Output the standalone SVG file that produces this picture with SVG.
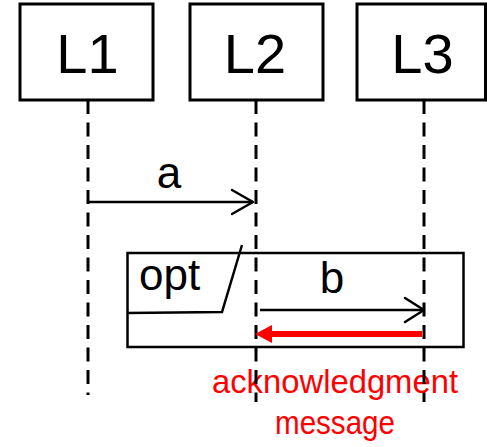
<svg xmlns="http://www.w3.org/2000/svg" width="487" height="447" viewBox="0 0 487 447">
  <style>
    .box { fill: #fff; stroke: #000; stroke-width: 3; }
    .life { stroke: #000; stroke-width: 3; stroke-dasharray: 14 8.5; fill: none; }
    .msg { stroke: #000; stroke-width: 2.5; fill: none; }
    .head { stroke: #000; stroke-width: 2.5; fill: none; stroke-linecap: round; stroke-linejoin: round; }
    .frame { stroke: #000; stroke-width: 2.5; fill: none; }
    .name { font-family: "Liberation Sans", Arial, sans-serif; font-size: 56px; fill: #000; text-anchor: middle; }
    .lbl { font-family: "Liberation Sans", Arial, sans-serif; font-size: 44px; fill: #000; }
    .note { font-family: "Liberation Sans", Arial, sans-serif; font-size: 34px; fill: #ff0000; text-anchor: middle; }
  </style>

  <!-- note text sits beneath the lifelines -->
  <g id="ack-note">
    <text class="note" x="335" y="393" textLength="246" lengthAdjust="spacingAndGlyphs">acknowledgment</text>
    <text class="note" x="335" y="434" textLength="120" lengthAdjust="spacingAndGlyphs">message</text>
  </g>

  <!-- lifelines -->
  <g id="lifelines">
    <line class="life" x1="88" y1="100" x2="88" y2="395"/>
    <line class="life" x1="256" y1="100" x2="256" y2="402"/>
    <line class="life" x1="424" y1="100" x2="424" y2="402"/>
  </g>

  <g id="L1">
    <rect class="box" x="20" y="4" width="133" height="96"/>
    <text class="name" x="87.5" y="73">L1</text>
  </g>
  <g id="L2">
    <rect class="box" x="190" y="4" width="133" height="96"/>
    <text class="name" x="255" y="73">L2</text>
  </g>
  <g id="L3">
    <rect class="box" x="357" y="4" width="128.5" height="96"/>
    <text class="name" x="422.5" y="73">L3</text>
  </g>

  <!-- combined fragment "opt" -->
  <g id="opt">
    <rect class="frame" x="127.5" y="253" width="336" height="94"/>
    <polyline class="frame" points="127.5,313 222,312 242,245"/>
    <text class="lbl" x="139" y="290">opt</text>
  </g>

  <!-- messages -->
  <g id="connectors">
    <g id="msg-a">
      <line class="msg" x1="88" y1="202" x2="253" y2="202"/>
      <polyline class="head" points="232,190 253,202 232,214"/>
      <text class="lbl" x="169" y="188" text-anchor="middle">a</text>
    </g>
    <g id="msg-b">
      <line class="msg" x1="260" y1="310" x2="424" y2="310"/>
      <polyline class="head" points="405,298 424,310 405,322"/>
      <text class="lbl" x="332" y="293" text-anchor="middle">b</text>
    </g>
    <g id="msg-ack">
      <line stroke="#ff0000" stroke-width="6" x1="422" y1="334" x2="268" y2="334"/>
      <polygon fill="#ff0000" points="255,334 272,325 272,343"/>
    </g>
  </g>
</svg>
